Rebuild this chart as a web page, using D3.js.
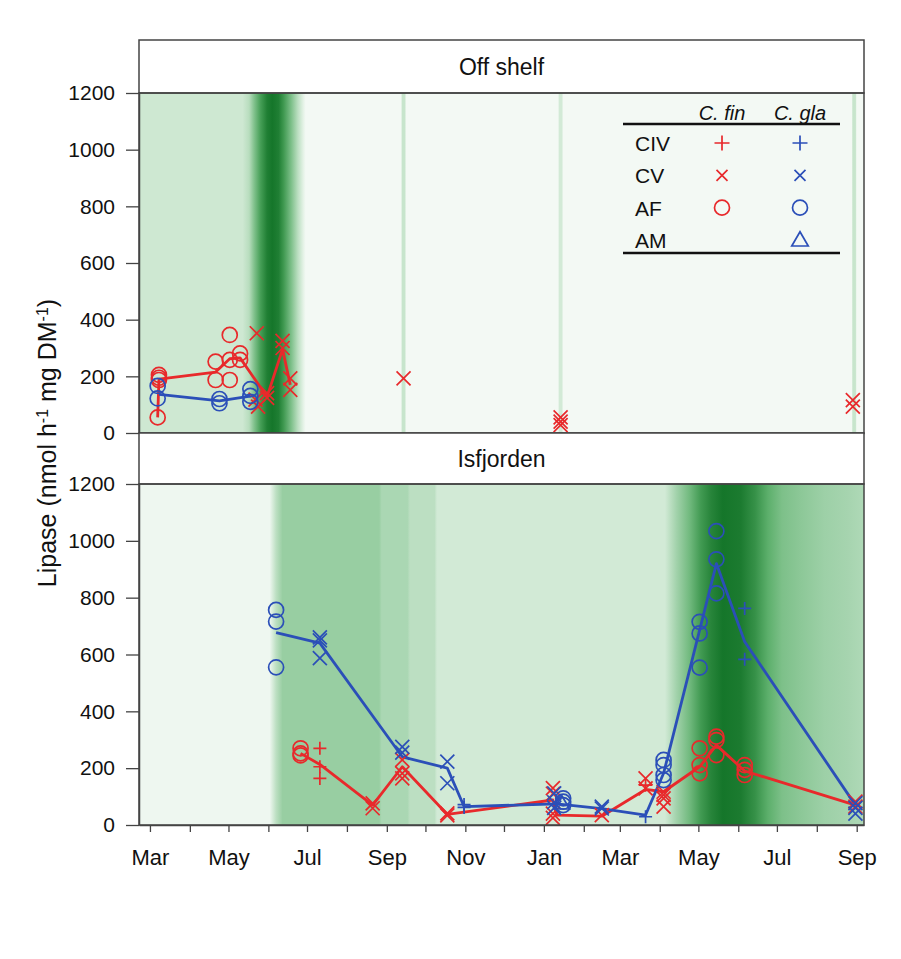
<!DOCTYPE html>
<html>
<head>
<meta charset="utf-8">
<script src="https://cdn.jsdelivr.net/npm/d3@7"></script>
<style>
  body { margin: 0; background: #fff; }
  text { font-family: "Liberation Sans", Arial, sans-serif; fill: #111; }
</style>
</head>
<body>
<script>
// ---- data ----
const xTickLabels = ['Mar', 'May', 'Jul', 'Sep', 'Nov', 'Jan', 'Mar', 'May', 'Jul', 'Sep'];
const yTicks = [0, 200, 400, 600, 800, 1000, 1200];
const panelNames = ['Off shelf', 'Isfjorden'];
const stages = ['CIV', 'CV', 'AF', 'AM'];
const species = ['C. fin', 'C. gla'];

// chlorophyll background, [date, relative level 0..1]
const chlOff = [
  ['2014-02-20', 0.22], ['2014-05-12', 0.22], ['2014-05-17', 0.32], ['2014-05-21', 0.55],
  ['2014-05-26', 0.78], ['2014-05-31', 0.95], ['2014-06-04', 1.0], ['2014-06-09', 0.95],
  ['2014-06-13', 0.8], ['2014-06-19', 0.55], ['2014-06-24', 0.3], ['2014-06-28', 0.1],
  ['2014-06-30', 0.0], ['2014-09-12', 0.0], ['2014-09-13', 0.25], ['2014-09-15', 0.25],
  ['2014-09-16', 0.0], ['2015-01-12', 0.0], ['2015-01-13', 0.2], ['2015-01-15', 0.2],
  ['2015-01-16', 0.0], ['2015-08-28', 0.0], ['2015-08-29', 0.25], ['2015-08-31', 0.25],
  ['2015-09-01', 0.0], ['2015-09-07', 0.0]
];
const chlIsf = [
  ['2014-02-20', 0.03], ['2014-06-02', 0.03], ['2014-06-07', 0.3], ['2014-06-12', 0.46],
  ['2014-08-26', 0.46], ['2014-08-28', 0.38], ['2014-09-17', 0.38], ['2014-09-19', 0.3],
  ['2014-10-08', 0.3], ['2014-10-10', 0.2], ['2015-04-05', 0.2], ['2015-04-14', 0.42],
  ['2015-04-24', 0.6], ['2015-05-03', 0.8], ['2015-05-11', 0.92], ['2015-05-20', 1.0],
  ['2015-06-03', 0.97], ['2015-06-14', 0.85], ['2015-06-24', 0.68], ['2015-07-05', 0.56],
  ['2015-07-20', 0.5], ['2015-08-07', 0.44], ['2015-08-25', 0.4], ['2015-09-07', 0.36]
];

// Off shelf
const offFinAF = [['2014-03-08', 205], ['2014-03-08', 195], ['2014-03-08', 187], ['2014-03-07', 55],
  ['2014-04-21', 252], ['2014-04-21', 187], ['2014-05-02', 346], ['2014-05-02', 258], ['2014-05-02', 187],
  ['2014-05-10', 281], ['2014-05-10', 258]];
const offFinCV = [['2014-05-23', 352], ['2014-05-24', 93], ['2014-05-22', 118], ['2014-05-31', 141],
  ['2014-05-31', 124], ['2014-06-12', 325], ['2014-06-12', 300], ['2014-06-18', 193], ['2014-06-18', 152],
  ['2014-09-14', 193], ['2015-01-14', 55], ['2015-01-14', 40], ['2015-01-14', 28],
  ['2015-08-29', 116], ['2015-08-29', 93]];
const offGlaAF = [['2014-03-07', 166], ['2014-03-07', 122], ['2014-04-24', 120], ['2014-04-24', 105],
  ['2014-05-18', 155], ['2014-05-18', 131], ['2014-05-18', 110]];
const offFinMean = [['2014-03-07', 55], ['2014-03-08', 190], ['2014-04-21', 215], ['2014-05-02', 262],
  ['2014-05-10', 265], ['2014-05-23', 180], ['2014-05-31', 128], ['2014-06-12', 295], ['2014-06-18', 170]];
const offGlaMean = [['2014-03-08', 136], ['2014-04-24', 113], ['2014-05-18', 130]];

// Isfjorden
const isfFinCIV = [['2014-07-11', 270], ['2014-07-11', 205], ['2014-07-11', 164], ['2015-03-21', 140]];
const isfFinCV = [['2014-08-21', 76], ['2014-08-21', 59], ['2014-09-13', 229], ['2014-09-13', 182],
  ['2014-09-13', 164], ['2014-10-18', 41], ['2014-10-18', 34], ['2015-01-08', 130], ['2015-01-08', 110],
  ['2015-01-08', 40], ['2015-01-08', 25], ['2015-02-15', 35], ['2015-03-21', 164], ['2015-03-21', 129],
  ['2015-04-04', 117], ['2015-04-04', 106], ['2015-04-04', 94], ['2015-04-04', 65],
  ['2015-08-31', 82], ['2015-08-31', 65]];
const isfFinAF = [['2014-06-26', 270], ['2014-06-26', 252], ['2014-06-26', 245], ['2015-05-02', 270],
  ['2015-05-02', 211], ['2015-05-02', 182], ['2015-05-15', 311], ['2015-05-15', 299], ['2015-05-15', 246],
  ['2015-06-06', 211], ['2015-06-06', 194], ['2015-06-06', 176]];
const isfGlaCIV = [['2014-10-31', 62], ['2014-10-31', 72], ['2015-03-21', 29], ['2015-06-06', 762],
  ['2015-06-06', 583]];
const isfGlaCV = [['2014-07-11', 660], ['2014-07-11', 650], ['2014-07-11', 587], ['2014-09-13', 275],
  ['2014-09-13', 255], ['2014-10-18', 223], ['2014-10-18', 147], ['2015-01-09', 111], ['2015-01-09', 80],
  ['2015-01-09', 60], ['2015-02-15', 65], ['2015-02-15', 58], ['2015-08-31', 77], ['2015-08-31', 60],
  ['2015-08-31', 40]];
const isfGlaAF = [['2014-06-07', 757], ['2014-06-07', 716], ['2014-06-07', 555], ['2015-01-16', 94],
  ['2015-01-16', 82], ['2015-01-16', 70], ['2015-04-04', 229], ['2015-04-04', 211], ['2015-04-04', 176],
  ['2015-04-04', 158], ['2015-05-02', 715], ['2015-05-02', 674], ['2015-05-02', 554],
  ['2015-05-15', 1034], ['2015-05-15', 935], ['2015-05-15', 815]];
const isfGlaAM = [['2015-01-15', 76]];
const isfFinMean = [['2014-06-26', 252], ['2014-07-11', 213], ['2014-08-21', 70], ['2014-09-13', 205],
  ['2014-10-18', 37], ['2015-01-08', 88], ['2015-01-11', 35], ['2015-02-15', 31], ['2015-03-21', 125],
  ['2015-04-04', 117], ['2015-05-02', 205], ['2015-05-15', 281], ['2015-06-06', 190], ['2015-08-31', 70]];
const isfGlaMean = [['2014-06-07', 677], ['2014-07-11', 640], ['2014-09-13', 240], ['2014-10-18', 200],
  ['2014-10-31', 65], ['2015-01-11', 74], ['2015-02-15', 58], ['2015-03-21', 35], ['2015-04-04', 182],
  ['2015-05-15', 920], ['2015-06-06', 645], ['2015-08-31', 70]];

// ---- layout ----
const W = 901, H = 959;
const left = 139, right = 864;
const red = '#e8292b', blue = '#2b4fb8';
const parse = d3.timeParse('%Y-%m-%d');

const panels = [
  {name: panelNames[0], strip: 40, top: 93, bottom: 433, chl: chlOff,
   lines: [[offFinMean, red], [offGlaMean, blue]],
   marks: [[offFinAF, 'AF', red], [offFinCV, 'CV', red], [offGlaAF, 'AF', blue]]},
  {name: panelNames[1], strip: 433, top: 484, bottom: 825, chl: chlIsf,
   lines: [[isfFinMean, red], [isfGlaMean, blue]],
   marks: [[isfFinAF, 'AF', red], [isfFinCIV, 'CIV', red], [isfFinCV, 'CV', red],
           [isfGlaAF, 'AF', blue], [isfGlaCIV, 'CIV', blue], [isfGlaCV, 'CV', blue], [isfGlaAM, 'AM', blue]]}
];

const x = d3.scaleTime()
  .domain([new Date(2014, 1, 20, 12), new Date(2015, 8, 6, 16)])
  .range([left, right]);

const chlColor = d3.scaleLinear()
  .domain([0, 0.2, 0.45, 0.7, 1])
  .range(['#f3f9f4', '#d2ead6', '#9bcfa5', '#57ac66', '#15762a'])
  .interpolate(d3.interpolateRgb);

function symbol(stage, s) {
  if (stage === 'CIV') return `M${-s},0H${s}M0,${-s}V${s}`;
  if (stage === 'CV') return `M${-s},${-s}L${s},${s}M${-s},${s}L${s},${-s}`;
  if (stage === 'AF') return d3.symbol(d3.symbolCircle, Math.PI * s * s)();
  return `M0,${-s * 1.1}L${s * 1.1},${s * 0.8}L${-s * 1.1},${s * 0.8}Z`;
}

const svg = d3.select('body').append('svg')
  .attr('width', W).attr('height', H);
const defs = svg.append('defs');

panels.forEach((p, pi) => {
  const y = d3.scaleLinear().domain([0, 1200]).range([p.bottom, p.top]);
  const g = svg.append('g');

  // background gradient
  const gid = 'chl' + pi;
  const grad = defs.append('linearGradient').attr('id', gid)
    .attr('gradientUnits', 'userSpaceOnUse')
    .attr('x1', left).attr('x2', right).attr('y1', 0).attr('y2', 0);
  grad.selectAll('stop').data(p.chl).join('stop')
    .attr('offset', d => (x(parse(d[0])) - left) / (right - left))
    .attr('stop-color', d => chlColor(d[1]));
  g.append('rect')
    .attr('x', left).attr('y', p.top)
    .attr('width', right - left).attr('height', p.bottom - p.top)
    .attr('fill', `url(#${gid})`);

  // strip
  g.append('rect')
    .attr('x', left).attr('y', p.strip)
    .attr('width', right - left).attr('height', p.top - p.strip)
    .attr('fill', '#fff').attr('stroke', '#444').attr('stroke-width', 1.5);
  g.append('text')
    .attr('x', (left + right) / 2).attr('y', (p.strip + p.top) / 2 + 8)
    .attr('text-anchor', 'middle').attr('font-size', 23)
    .text(p.name);

  // mean lines
  const line = d3.line().x(d => x(parse(d[0]))).y(d => y(d[1]));
  p.lines.forEach(([data, col]) => {
    g.append('path').attr('d', line(data))
      .attr('fill', 'none').attr('stroke', col).attr('stroke-width', 2.8)
      .attr('stroke-linejoin', 'round');
  });

  // markers
  p.marks.forEach(([data, stage, col]) => {
    const s = stage === 'AF' ? 7.5 : stage === 'CIV' ? 6.5 : 7;
    g.selectAll(null).data(data).join('path')
      .attr('transform', d => `translate(${x(parse(d[0]))},${y(d[1])})`)
      .attr('d', symbol(stage, s))
      .attr('fill', 'none').attr('stroke', col).attr('stroke-width', 1.7);
  });

  // frame
  g.append('rect')
    .attr('x', left).attr('y', p.top)
    .attr('width', right - left).attr('height', p.bottom - p.top)
    .attr('fill', 'none').attr('stroke', '#444').attr('stroke-width', 1.5);

  // axes
  const yAxis = g.append('g').attr('transform', `translate(${left},0)`)
    .call(d3.axisLeft(y).tickValues(yTicks).tickFormat(d3.format('d'))
      .tickSize(13).tickPadding(11).tickSizeOuter(0));
  yAxis.selectAll('text').attr('font-size', 21);

  const months = d3.timeMonth.range(new Date(2014, 2, 1), new Date(2015, 8, 2));
  const xAxis = g.append('g').attr('transform', `translate(0,${p.bottom})`)
    .call(d3.axisBottom(x).tickValues(months).tickSize(7).tickPadding(17).tickSizeOuter(0)
      .tickFormat((d, i) => (pi === 1 && i % 2 === 0) ? xTickLabels[i / 2] : ''));
  xAxis.selectAll('text').attr('font-size', 22);
  [yAxis, xAxis].forEach(a => {
    a.select('.domain').attr('stroke', '#444').attr('stroke-width', 1.5);
    a.selectAll('.tick line').attr('stroke', '#444').attr('stroke-width', 1.3);
    a.selectAll('text').style('font-family', '"Liberation Sans", Arial, sans-serif').attr('fill', '#111');
  });

  // legend in the top panel
  if (pi === 0) {
    const lg = g.append('g');
    const lx0 = 623, lx1 = 840, col = [722, 800];
    const rowY = d3.scalePoint().domain(stages).range([143, 240]);
    lg.append('line').attr('x1', lx0).attr('x2', lx1).attr('y1', 124).attr('y2', 124)
      .attr('stroke', '#111').attr('stroke-width', 2.5);
    lg.append('line').attr('x1', lx0).attr('x2', lx1).attr('y1', 253).attr('y2', 253)
      .attr('stroke', '#111').attr('stroke-width', 2.5);
    lg.selectAll('.sp').data(species).join('text')
      .attr('x', (d, i) => col[i]).attr('y', 120)
      .attr('text-anchor', 'middle').attr('font-size', 20).attr('font-style', 'italic')
      .text(d => d);
    lg.selectAll('.st').data(stages).join('text')
      .attr('x', 635).attr('y', d => rowY(d) + 8)
      .attr('font-size', 21).text(d => d);
    const legendMarks = [['CIV', 0], ['CV', 0], ['AF', 0], ['CIV', 1], ['CV', 1], ['AF', 1], ['AM', 1]];
    lg.selectAll('.mk').data(legendMarks).join('path')
      .attr('transform', d => `translate(${col[d[1]]},${rowY(d[0])})`)
      .attr('d', d => symbol(d[0], d[0] === 'CIV' ? 7.5 : d[0] === 'CV' ? 5.5 : 7.5))
      .attr('fill', 'none').attr('stroke', d => d[1] ? blue : red).attr('stroke-width', 1.7);
  }
});

// y axis title
const yt = svg.append('text')
  .attr('transform', 'translate(56,443) rotate(-90)')
  .attr('text-anchor', 'middle').attr('font-size', 25);
yt.append('tspan').text('Lipase (nmol h');
yt.append('tspan').attr('baseline-shift', 'super').attr('font-size', 16).text('-1');
yt.append('tspan').text(' mg DM');
yt.append('tspan').attr('baseline-shift', 'super').attr('font-size', 16).text('-1');
yt.append('tspan').text(')');
</script>
</body>
</html>
